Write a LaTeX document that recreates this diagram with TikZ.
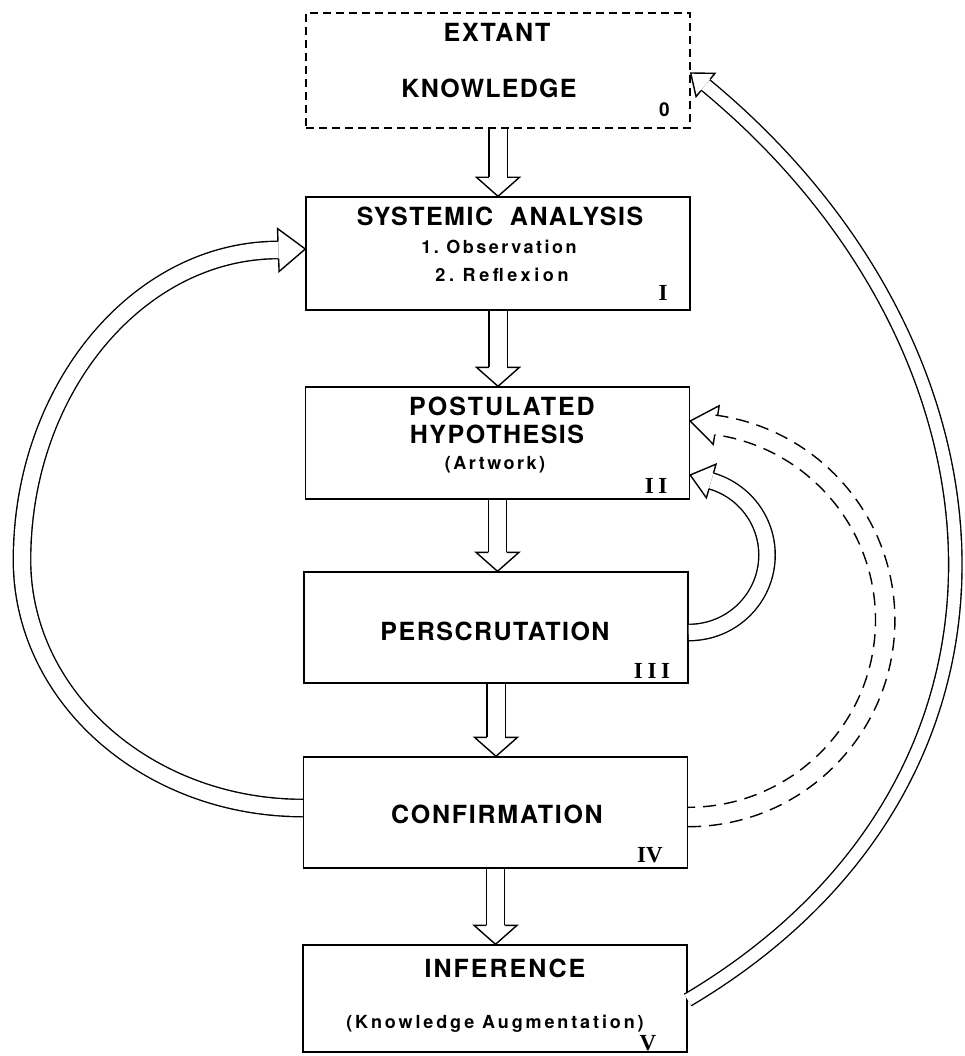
\documentclass[tikz,border=0pt]{standalone}
\usepackage{fontspec}
\usetikzlibrary{calc}
\newfontfamily\hv{TeX Gyre Heros}
\newfontfamily\rmn{Liberation Serif}
\newcommand\ls[1]{\addfontfeatures{LetterSpace=#1}}
\newcommand\ohead[4]{\draw[hd] ($(#2)!#4!90:(#1)$) -- ($(#2)!#3!90:(#1)$) -- (#1) -- ($(#2)!#3!-90:(#1)$) -- ($(#2)!#4!-90:(#1)$);}
\tikzset{
 box/.style={draw, line width=1.4pt, minimum width=384pt, minimum height=#1, inner sep=0pt},
 dbox/.style={box=#1, dash pattern=on 8pt off 5pt},
 shaft/.style={draw, line width=1.4pt, double=white, double distance=#1},
 dsh/.style={draw, line width=1.4pt, dash pattern=on 13pt off 8pt},
 hd/.style={line width=1.4pt, line join=miter, miter limit=10},
 big/.style={font=\hv\bfseries\fontsize{25}{25}\selectfont, inner sep=0pt, anchor=base},
 small/.style={font=\hv\bfseries\fontsize{18}{18}\selectfont, inner sep=0pt, anchor=base},
 num/.style={font=\rmn\bfseries\fontsize{23}{23}\selectfont, inner sep=0pt, anchor=base},
}
\begin{document}
\begin{tikzpicture}[x=1pt,y=-1pt]
\fill[white] (0,0) rectangle (964,1056);
\useasboundingbox (0,0) rectangle (964,1056);
% boxes
\node[dbox=115pt] (b0) at (498,70.5) {};
\node[box=113pt] (b1) at (498,253.5) {};
\node[box=112pt] (b2) at (497.5,443) {};
\node[box=111pt] (b3) at (496,627.5) {};
\node[box=111pt] (b4) at (495.5,812.5) {};
\node[box=107pt] (b5) at (495,998.5) {};
% vertical hollow arrows
\foreach \a/\b in {b0/b1,b1/b2,b2/b3,b3/b4,b4/b5}{
  \coordinate (t\b) at (\a.south |- \b.north);
  \coordinate (h\b) at ($(t\b)+(0,-19)$);
  \draw[shaft=17pt] (\a.south) -- (h\b);
  \ohead{t\b}{h\b}{21.5pt}{9.2pt}
}
% left loop IV -> I
\coordinate (ls) at ($(b4.west)+(0,-4.5)$);
\coordinate (lt) at ($(b1.west)+(0,-4.5)$);
\coordinate (lb) at ($(lt)+(-27,1)$);
\draw[shaft=16pt] (ls) .. controls (148,808) and (22,697) .. (22,560) .. controls (22,389) and (138,250) .. (lb);
\ohead{lt}{lb}{21.5pt}{8.7pt}
% small loop III -> II
\coordinate (ss) at ($(b3.east)+(0,5)$);
\coordinate (st) at ($(b2.east)+(0,32)$);
\coordinate (sb) at ($(st)+(21,6)$);
\draw[shaft=15pt] (ss) .. controls (732.5,632.5) and (767,597.5) .. (767,555) .. controls (767,520.7) and (744.2,490.5) .. (sb);
\ohead{st}{sb}{17.5pt}{8.2pt}
% dashed loop IV -> II (two dashed lines)
\coordinate (do) at ($(b4.east)+(0,14.2)$);
\coordinate (di) at ($(b4.east)+(0,-5.2)$);
\coordinate (dt) at ($(b2.east)+(0,-22)$);
\coordinate (db) at ($(dt)+(26,4)$);
\draw[dsh] (do) arc[start angle=90, end angle=-82.5, radius=206.7];
\draw[dsh, dash phase=6pt] (di) arc[start angle=90, end angle=-81.7, radius=187.3];
\ohead{dt}{db}{19.5pt}{9.7pt}
% big loop V -> 0
\coordinate (gs) at ($(b5.east)+(0,1.5)$);
\coordinate (gt) at ($(b0.east)+(0,2.5)$);
\coordinate (gb) at ($(gt)+(14.8,12)$);
\draw[shaft=12pt] (gs) .. controls (1058,780) and (1025,349) .. (gb);
\ohead{gt}{gb}{15pt}{7.4pt}
% texts
\node[big] (tEx) at (497,42) {\ls{7}EXTANT};
\node[big] (tKn) at (489,98) {\ls{5}KNOWLEDGE};
\node[font=\hv\bfseries\fontsize{19}{19}\selectfont, inner sep=0pt, anchor=base] (t0) at (664.5,117) {0};
\node[big] (tSy) at (500,226) {\ls{6}SYSTEMIC\ \ ANALYSIS};
\node[small] (tOb) at (499,254) {\ls{14}1.\ Observation};
\node[small] (tRe) at (502,282) {\ls{20}2.\ Reflexion};
\node[num] (n1) at (663,301) {I};
\node[big] (tPo) at (502,415) {\ls{8}POSTULATED};
\node[big] (tHy) at (497,443) {\ls{6}HYPOTHESIS};
\node[small] (tAr) at (495,469) {\ls{14}(Artwork)};
\node[num] (n2) at (656,493) {\ls{20}II};
\node[big] (tPe) at (495,640) {\ls{6}PERSCRUTATION};
\node[num] (n3) at (652,678) {\ls{20}III};
\node[big] (tCo) at (497,823) {\ls{7}CONFIRMATION};
\node[num] (n4) at (650,862) {IV};
\node[big] (tIn) at (505,977) {\ls{8}INFERENCE};
\node[small] (tKa) at (495,1028) {\ls{16}(Knowledge Augmentation)};
\node[num] (n5) at (648,1050) {V};
\end{tikzpicture}
\end{document}
